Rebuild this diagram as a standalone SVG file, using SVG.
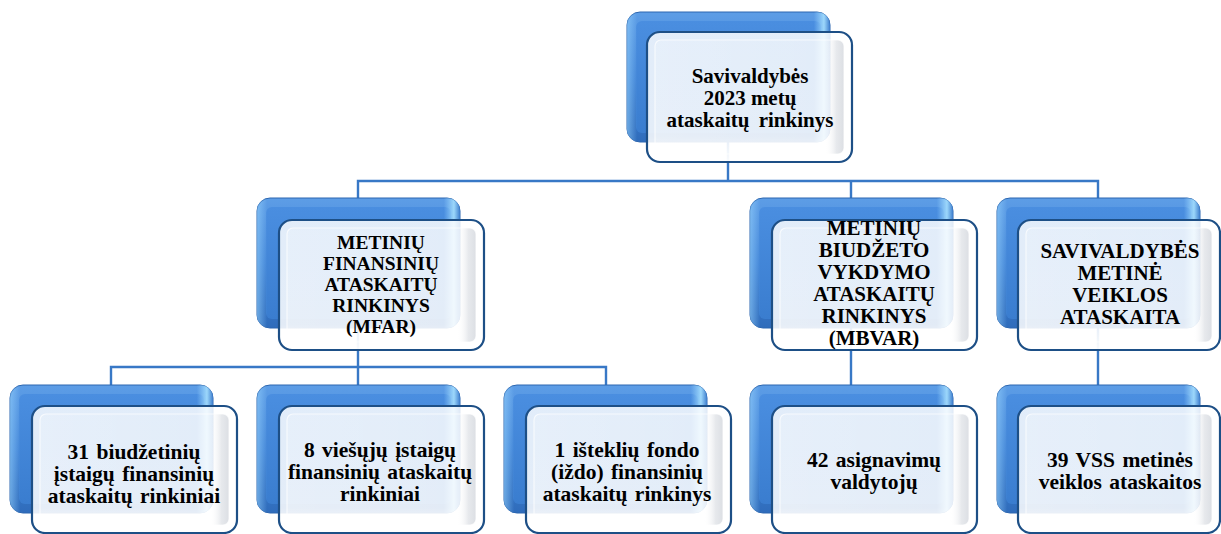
<svg xmlns="http://www.w3.org/2000/svg" width="1221" height="534" viewBox="0 0 1221 534">
<style>
.conn{fill:none;stroke:#3878c6;stroke-width:2.4;stroke-linecap:square}
.back{fill:url(#gBack);stroke:#2c66b0;stroke-width:1}
.backIn{fill:url(#gBackIn)}
.backHi{fill:url(#gBackHi)}
.front{fill:url(#gFront);stroke:#1d4f86;stroke-width:2.2}
.frontIn{fill:url(#gFrontIn);stroke:#ffffff;stroke-opacity:0.7;stroke-width:1.2}
.t{font-family:"Liberation Serif","Times New Roman",serif;font-weight:bold;font-size:21px;fill:#000;text-anchor:middle}
.s{font-size:19.5px}
.b{font-size:21.5px;word-spacing:2px}
</style>
<defs>
<linearGradient id="gBack" x1="0" y1="0" x2="0" y2="1">
<stop offset="0" stop-color="#5d9de6"/>
<stop offset="0.5" stop-color="#4386d8"/>
<stop offset="1" stop-color="#2f6cbb"/>
</linearGradient>
<linearGradient id="gBackIn" x1="0" y1="0" x2="0" y2="1">
<stop offset="0" stop-color="#4a8ee0"/>
<stop offset="1" stop-color="#3a7dcf"/>
</linearGradient>
<linearGradient id="gBackHi" x1="0" y1="0" x2="1" y2="0">
<stop offset="0" stop-color="#9ad6ff" stop-opacity="0.55"/>
<stop offset="0.05" stop-color="#9ad6ff" stop-opacity="0"/>
<stop offset="0.92" stop-color="#9ad6ff" stop-opacity="0"/>
<stop offset="0.97" stop-color="#a8e2ff" stop-opacity="0.85"/>
<stop offset="1" stop-color="#3b7bcc" stop-opacity="0.9"/>
</linearGradient>
<linearGradient id="gFront" x1="0" y1="0" x2="0" y2="1">
<stop offset="0" stop-color="#ffffff" stop-opacity="0.84"/>
<stop offset="0.8" stop-color="#ffffff" stop-opacity="0.86"/>
<stop offset="1" stop-color="#ffffff" stop-opacity="0.97"/>
</linearGradient>
<linearGradient id="gFrontIn" x1="0" y1="0" x2="1" y2="0">
<stop offset="0" stop-color="#ffffff" stop-opacity="0.15"/>
<stop offset="0.9" stop-color="#ffffff" stop-opacity="0"/>
<stop offset="0.96" stop-color="#c9ced6" stop-opacity="0.45"/>
<stop offset="1" stop-color="#b8bec8" stop-opacity="0.5"/>
</linearGradient>
</defs>

<g id="connectors">
<path class="conn" d="M728,142 V181 M358,181 H1098 M358,181 V198 M851,181 V198 M1098,181 V198"/>
<path class="conn" d="M358,328 V367 M111,367 H606 M111,367 V385 M358,367 V385 M606,367 V385"/>
<path class="conn" d="M851,328 V385 M1098,328 V385"/>
</g>

<g id="node-top">
<rect class="back" x="627" y="12" width="203" height="130" rx="13"/>
<rect class="backIn" x="636" y="21" width="185" height="112" rx="6"/>
<rect class="backHi" x="627" y="12" width="203" height="130" rx="13"/>
<rect class="front" x="647" y="32" width="205" height="130" rx="13"/>
<rect class="frontIn" x="655" y="40" width="189" height="114" rx="6"/>
<text class="t" x="750" y="83">Savivaldybės</text>
<text class="t" x="750" y="105">2023 metų</text>
<text class="t" x="750" y="127" style="word-spacing:4px">ataskaitų rinkinys</text>
</g>

<g id="node-mfar">
<rect class="back" x="257" y="198" width="203" height="130" rx="13"/>
<rect class="backIn" x="266" y="207" width="185" height="112" rx="6"/>
<rect class="backHi" x="257" y="198" width="203" height="130" rx="13"/>
<rect class="front" x="279" y="220" width="205" height="130" rx="13"/>
<rect class="frontIn" x="287" y="228" width="189" height="114" rx="6"/>
<text class="t s" x="381" y="249">METINIŲ</text>
<text class="t s" x="381" y="270">FINANSINIŲ</text>
<text class="t s" x="381" y="291">ATASKAITŲ</text>
<text class="t s" x="381" y="312">RINKINYS</text>
<text class="t s" x="381" y="333">(MFAR)</text>
</g>

<g id="node-mbvar">
<rect class="back" x="750" y="198" width="203" height="130" rx="13"/>
<rect class="backIn" x="759" y="207" width="185" height="112" rx="6"/>
<rect class="backHi" x="750" y="198" width="203" height="130" rx="13"/>
<rect class="front" x="772" y="220" width="205" height="130" rx="13"/>
<rect class="frontIn" x="780" y="228" width="189" height="114" rx="6"/>
<text class="t" x="874" y="235">METINIŲ</text>
<text class="t" x="874" y="257">BIUDŽETO</text>
<text class="t" x="874" y="279">VYKDYMO</text>
<text class="t" x="874" y="301">ATASKAITŲ</text>
<text class="t" x="874" y="323">RINKINYS</text>
<text class="t" x="874" y="345">(MBVAR)</text>
</g>

<g id="node-sva">
<rect class="back" x="997" y="198" width="203" height="130" rx="13"/>
<rect class="backIn" x="1006" y="207" width="185" height="112" rx="6"/>
<rect class="backHi" x="997" y="198" width="203" height="130" rx="13"/>
<rect class="front" x="1018" y="220" width="202" height="130" rx="13"/>
<rect class="frontIn" x="1026" y="228" width="186" height="114" rx="6"/>
<text class="t" x="1120" y="258">SAVIVALDYBĖS</text>
<text class="t" x="1120" y="280">METINĖ</text>
<text class="t" x="1120" y="302">VEIKLOS</text>
<text class="t" x="1120" y="324">ATASKAITA</text>
</g>

<g id="node-b1">
<rect class="back" x="10" y="385" width="203" height="128" rx="13"/>
<rect class="backIn" x="19" y="394" width="185" height="110" rx="6"/>
<rect class="backHi" x="10" y="385" width="203" height="128" rx="13"/>
<rect class="front" x="32" y="406" width="205" height="127" rx="13"/>
<rect class="frontIn" x="40" y="414" width="189" height="111" rx="6"/>
<text class="t b" x="134" y="459">31 biudžetinių</text>
<text class="t b" x="134" y="481">įstaigų finansinių</text>
<text class="t b" x="134" y="503">ataskaitų rinkiniai</text>
</g>

<g id="node-b2">
<rect class="back" x="257" y="385" width="203" height="128" rx="13"/>
<rect class="backIn" x="266" y="394" width="185" height="110" rx="6"/>
<rect class="backHi" x="257" y="385" width="203" height="128" rx="13"/>
<rect class="front" x="279" y="406" width="205" height="127" rx="13"/>
<rect class="frontIn" x="287" y="414" width="189" height="111" rx="6"/>
<text class="t b" x="380" y="457">8 viešųjų įstaigų</text>
<text class="t b" x="380" y="479">finansinių ataskaitų</text>
<text class="t b" x="380" y="501">rinkiniai</text>
</g>

<g id="node-b3">
<rect class="back" x="504" y="385" width="203" height="128" rx="13"/>
<rect class="backIn" x="513" y="394" width="185" height="110" rx="6"/>
<rect class="backHi" x="504" y="385" width="203" height="128" rx="13"/>
<rect class="front" x="526" y="406" width="205" height="127" rx="13"/>
<rect class="frontIn" x="534" y="414" width="189" height="111" rx="6"/>
<text class="t b" x="627" y="457">1 išteklių fondo</text>
<text class="t b" x="627" y="479">(iždo) finansinių</text>
<text class="t b" x="627" y="501">ataskaitų rinkinys</text>
</g>

<g id="node-b4">
<rect class="back" x="750" y="385" width="203" height="128" rx="13"/>
<rect class="backIn" x="759" y="394" width="185" height="110" rx="6"/>
<rect class="backHi" x="750" y="385" width="203" height="128" rx="13"/>
<rect class="front" x="772" y="406" width="205" height="127" rx="13"/>
<rect class="frontIn" x="780" y="414" width="189" height="111" rx="6"/>
<text class="t b" x="874" y="467">42 asignavimų</text>
<text class="t b" x="874" y="489">valdytojų</text>
</g>

<g id="node-b5">
<rect class="back" x="997" y="385" width="203" height="128" rx="13"/>
<rect class="backIn" x="1006" y="394" width="185" height="110" rx="6"/>
<rect class="backHi" x="997" y="385" width="203" height="128" rx="13"/>
<rect class="front" x="1018" y="406" width="202" height="127" rx="13"/>
<rect class="frontIn" x="1026" y="414" width="186" height="111" rx="6"/>
<text class="t b" x="1120" y="467">39 VSS metinės</text>
<text class="t b" x="1120" y="489">veiklos ataskaitos</text>
</g>
</svg>
